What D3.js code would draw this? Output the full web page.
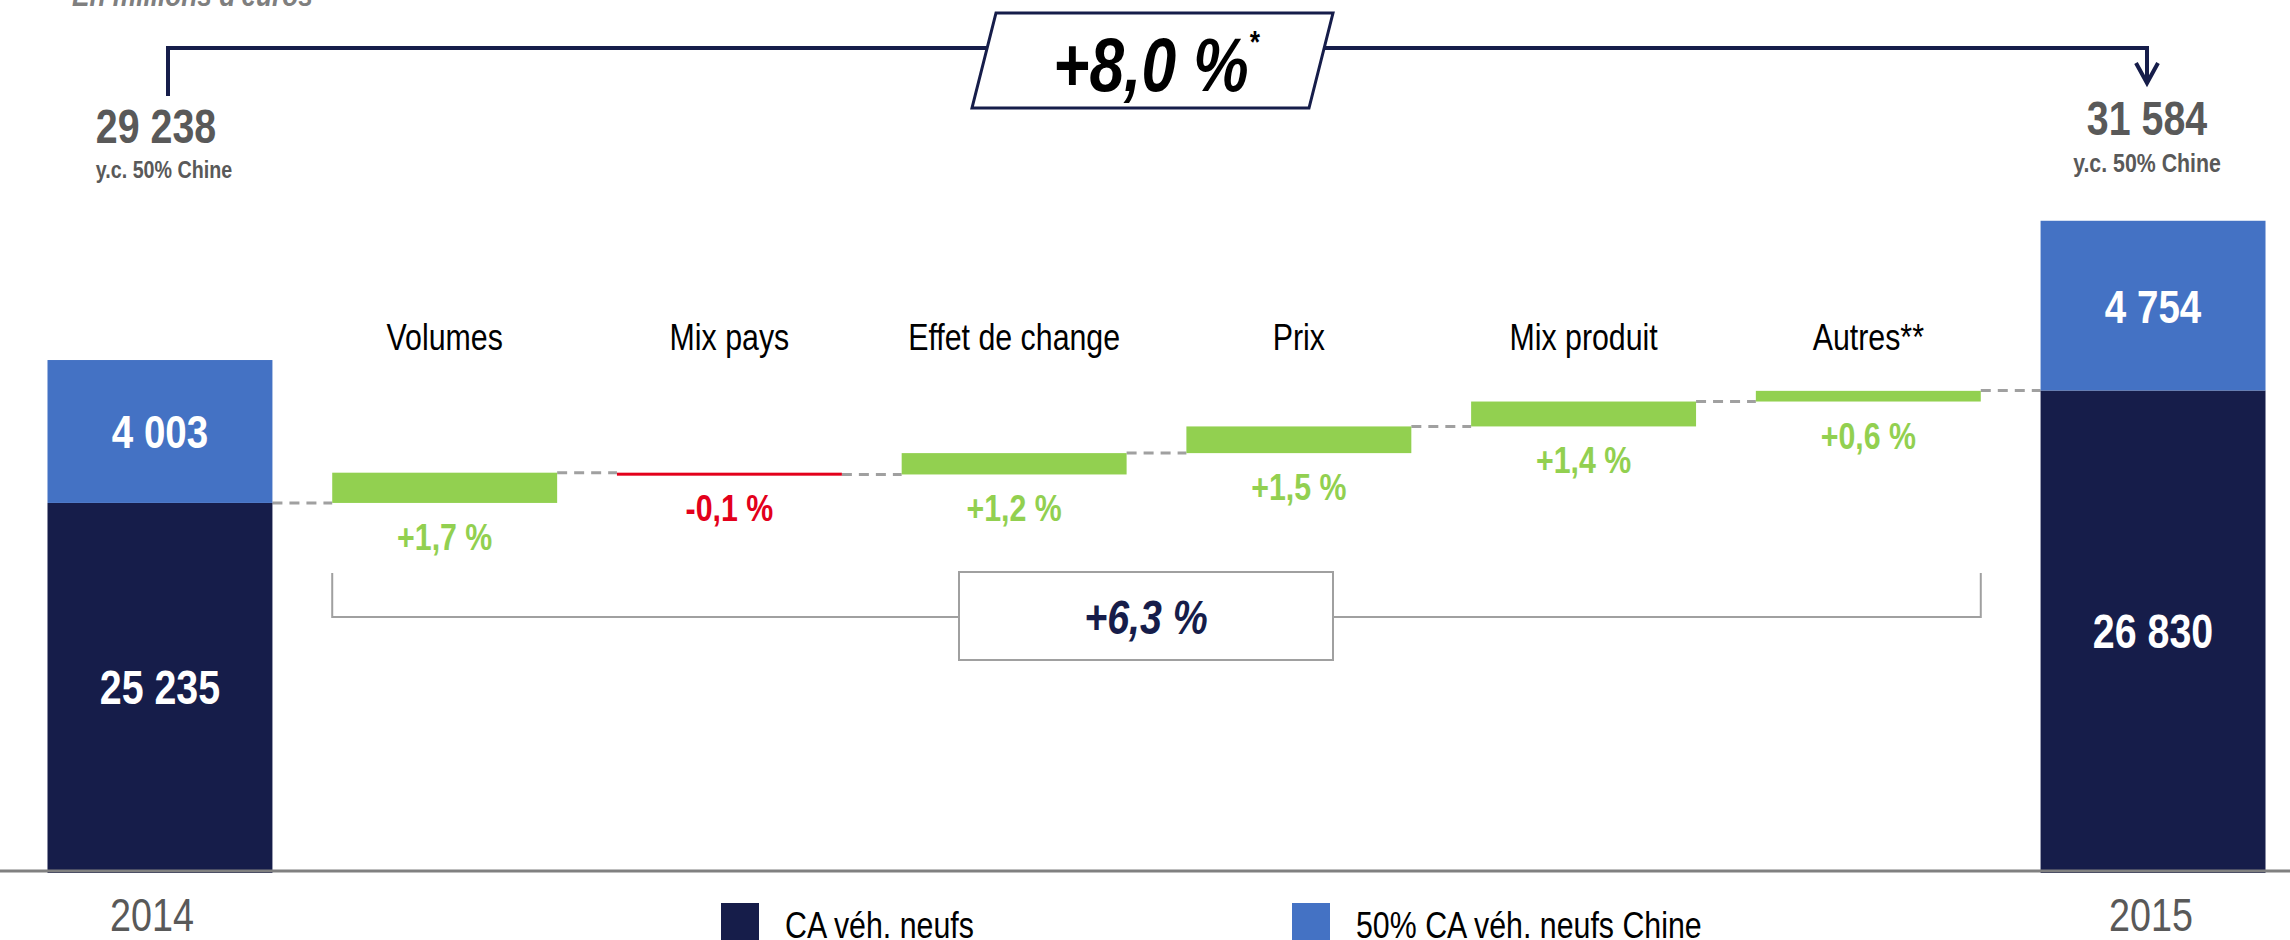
<!DOCTYPE html>
<html>
<head>
<meta charset="utf-8">
<script src="https://cdn.jsdelivr.net/npm/d3@7"></script>
<style>
  html, body { margin: 0; padding: 0; background: #fff; }
  svg { display: block; }
  text { font-family: "Liberation Sans", Arial, sans-serif; }
</style>
</head>
<body>
<div id="chart"></div>
<script>
const categories = ["2014", "Volumes", "Mix pays", "Effet de change", "Prix", "Mix produit", "Autres**", "2015"];
const years = ["2014", "2015"];
const caNeufs = [25235, 26830];
const caChine = [4003, 4754];
const totals = [29238, 31584];
const steps = ["Volumes", "Mix pays", "Effet de change", "Prix", "Mix produit", "Autres**"];
const stepPct = [1.7, -0.1, 1.2, 1.5, 1.4, 0.6];
const stepsTotalPct = 6.3;
const totalPct = 8.0;
const legendLabels = ["CA véh. neufs", "50% CA véh. neufs Chine"];
const subtitle = "En millions d'euros";
const totalNote = "y.c. 50% Chine";

const width = 2290;
const height = 940;
const navy = "#161d4a";
const blue = "#4472c4";
const green = "#92d050";
const red = "#e3001b";
const grayText = "#595959";
const narrow = 0.82; // no Arial Narrow here, so squeeze Liberation Sans

const locale = d3.formatLocale({ decimal: ",", thousands: " ", grouping: [3], currency: ["", ""], minus: "-" });
const fmtNum = locale.format(",d");
const fmtPct = v => locale.format("+.1f")(v) + " %";

const at = (px, py) => `translate(${px},${py}) scale(${narrow},1)`;

const svg = d3.select("#chart")
    .append("svg")
    .attr("width", width)
    .attr("height", height);

const x = d3.scaleBand()
    .domain(categories)
    .range([17.6, 2295.4])
    .paddingInner(0.21)
    .paddingOuter(0.105);

// the axis is cut at 20 000, China part is drawn at about half scale
const y = d3.scaleLinear()
    .domain([20000, 30000])
    .range([872, 167]);

const hChine = d3.scaleLinear()
    .domain([0, 10000])
    .range([0, 357]);

const bw = x.bandwidth();

// waterfall steps
let running = caNeufs[0];
const wf = steps.map((s, i) => {
    const start = running;
    const end = running + caNeufs[0] * stepPct[i] / 100;
    running = end;
    return { cat: s, pct: stepPct[i], start, end };
});

// dashed connectors
const levels = [{ from: "2014", to: wf[0].cat, v: caNeufs[0] }];
wf.forEach((d, i) => {
    const next = i < wf.length - 1 ? wf[i + 1].cat : "2015";
    levels.push({ from: d.cat, to: next, v: i < wf.length - 1 ? d.end : caNeufs[1] });
});

svg.append("g")
    .selectAll("line")
    .data(levels)
    .join("line")
    .attr("x1", d => x(d.from) + bw)
    .attr("x2", d => x(d.to))
    .attr("y1", d => y(d.v))
    .attr("y2", d => y(d.v))
    .attr("stroke", "#a0a0a0")
    .attr("stroke-width", 3)
    .attr("stroke-dasharray", "10,7");

// stacked year bars
const yearG = svg.append("g");
years.forEach((yr, i) => {
    const top = y(caNeufs[i]);
    const hc = hChine(caChine[i]);
    const cx = x(yr) + bw / 2;
    yearG.append("rect")
        .attr("x", x(yr))
        .attr("y", top)
        .attr("width", bw)
        .attr("height", y(20000) - top + 1)
        .attr("fill", navy);
    yearG.append("rect")
        .attr("x", x(yr))
        .attr("y", top - hc)
        .attr("width", bw)
        .attr("height", hc)
        .attr("fill", blue);
    yearG.append("text")
        .attr("transform", at(cx, (top + y(20000)) / 2 + 17))
        .attr("text-anchor", "middle")
        .attr("fill", "#fff")
        .attr("font-weight", "bold")
        .attr("font-size", 48)
        .text(fmtNum(caNeufs[i]));
    yearG.append("text")
        .attr("transform", at(cx, top - hc / 2 + 17))
        .attr("text-anchor", "middle")
        .attr("fill", "#fff")
        .attr("font-weight", "bold")
        .attr("font-size", 47)
        .text(fmtNum(caChine[i]));
    yearG.append("text")
        .attr("transform", at(cx - (i === 0 ? 8 : 2), 931))
        .attr("text-anchor", "middle")
        .attr("fill", grayText)
        .attr("font-size", 46)
        .text(yr);
});

// step bars
const stepG = svg.append("g");
stepG.selectAll("rect")
    .data(wf)
    .join("rect")
    .attr("x", d => x(d.cat))
    .attr("y", d => y(Math.max(d.start, d.end)))
    .attr("width", bw)
    .attr("height", d => Math.max(3, Math.abs(y(d.start) - y(d.end))))
    .attr("fill", d => d.pct < 0 ? red : green);

stepG.selectAll("text.pct")
    .data(wf)
    .join("text")
    .attr("class", "pct")
    .attr("transform", d => at(x(d.cat) + bw / 2, y(Math.min(d.start, d.end)) + 47))
    .attr("text-anchor", "middle")
    .attr("font-weight", "bold")
    .attr("font-size", 37)
    .attr("fill", d => d.pct < 0 ? red : green)
    .text(d => fmtPct(d.pct));

stepG.selectAll("text.cat")
    .data(steps)
    .join("text")
    .attr("class", "cat")
    .attr("transform", d => at(x(d) + bw / 2, 350))
    .attr("text-anchor", "middle")
    .attr("font-size", 37)
    .attr("fill", "#000")
    .text(d => d);

// bracket +6,3 %
const bx1 = x(steps[0]);
const bx2 = x(steps[steps.length - 1]) + bw;
svg.append("path")
    .attr("d", `M${bx1},573 V617 H${bx2} V573`)
    .attr("fill", "none")
    .attr("stroke", "#a0a0a0")
    .attr("stroke-width", 2);
svg.append("rect")
    .attr("x", 959)
    .attr("y", 572)
    .attr("width", 374)
    .attr("height", 88)
    .attr("fill", "#fff")
    .attr("stroke", "#a0a0a0")
    .attr("stroke-width", 2);
svg.append("text")
    .attr("transform", at(1146, 634))
    .attr("text-anchor", "middle")
    .attr("font-weight", "bold")
    .attr("font-style", "italic")
    .attr("font-size", 48)
    .attr("fill", navy)
    .text(fmtPct(stepsTotalPct));

// top arrow +8,0 %
const lx = 168, rx = 2147;
svg.append("path")
    .attr("d", `M${lx},96 V48 H${rx} V82`)
    .attr("fill", "none")
    .attr("stroke", navy)
    .attr("stroke-width", 4);
svg.append("path")
    .attr("d", `M${rx - 11},63 L${rx},83 L${rx + 11},63`)
    .attr("fill", "none")
    .attr("stroke", navy)
    .attr("stroke-width", 4);
svg.append("polygon")
    .attr("points", "996,13 1333,13 1309,108 972,108")
    .attr("fill", "#fff")
    .attr("stroke", navy)
    .attr("stroke-width", 3);
const bigT = svg.append("text")
    .attr("transform", at(1156, 91))
    .attr("text-anchor", "middle")
    .attr("font-weight", "bold")
    .attr("font-style", "italic")
    .attr("font-size", 76)
    .attr("fill", "#000");
bigT.append("tspan").text(fmtPct(totalPct));
bigT.append("tspan").attr("font-size", 32).attr("dy", -38).text("*");

// totals with China
[[156, 164, 143, 178, 24, 0], [rx, rx, 135, 172, 26, 1]].forEach(([cx1, cx2, y1, y2, fs, i]) => {
    svg.append("text")
        .attr("transform", at(cx1, y1))
        .attr("text-anchor", "middle")
        .attr("font-weight", "bold")
        .attr("font-size", 48)
        .attr("fill", grayText)
        .text(fmtNum(totals[i]));
    svg.append("text")
        .attr("transform", at(cx2, y2))
        .attr("text-anchor", "middle")
        .attr("font-weight", "bold")
        .attr("font-size", fs)
        .attr("fill", grayText)
        .text(totalNote);
});

svg.append("text")
    .attr("transform", at(72, 6))
    .attr("font-weight", "bold")
    .attr("font-style", "italic")
    .attr("font-size", 32)
    .attr("fill", "#7f7f7f")
    .text(subtitle);

// baseline
svg.append("line")
    .attr("x1", 0)
    .attr("x2", width)
    .attr("y1", 871)
    .attr("y2", 871)
    .attr("stroke", "#808080")
    .attr("stroke-width", 3);

// legend
const legend = svg.append("g");
[[721, navy], [1292, blue]].forEach(([lxx, c], i) => {
    legend.append("rect")
        .attr("x", lxx)
        .attr("y", 903)
        .attr("width", 38)
        .attr("height", 40)
        .attr("fill", c);
    legend.append("text")
        .attr("transform", at(lxx + 64, 938))
        .attr("font-size", 37)
        .attr("fill", "#000")
        .text(legendLabels[i]);
});
</script>
</body>
</html>
